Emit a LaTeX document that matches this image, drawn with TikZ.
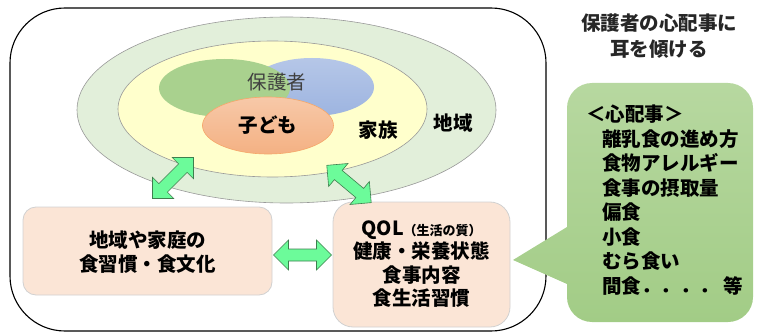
\documentclass[tikz,border=0pt]{standalone}
\usepackage{fontspec}
\setmainfont{Noto Sans CJK JP}
\usetikzlibrary{shapes.geometric,calc}
\definecolor{chiikiC}{HTML}{E2EFDA}
\definecolor{kazokuC}{HTML}{FFFFCC}
\definecolor{hogoG}{HTML}{A9D18E}
\definecolor{hogoB}{HTML}{9DB4E0}
\definecolor{kodomoC}{HTML}{F4B183}
\definecolor{boxC}{HTML}{FBE5D6}
\definecolor{arrC}{HTML}{6CFB9A}
\definecolor{arrD}{HTML}{3E7F4E}
\definecolor{callTop}{HTML}{B7D8A0}
\definecolor{callBot}{HTML}{A2CC86}
\begin{document}
\begin{tikzpicture}[x=1pt,y=-1pt,
  txt/.style={font=\fontsize{19.5}{24}\selectfont\bfseries, text=black},
  ring/.style={ellipse, draw=gray!80, line width=0.6pt, inner sep=0pt},
  bubble/.style={ellipse, inner sep=0pt},
  infobox/.style={draw=black!18, line width=0.8pt, fill=boxC},
  arrowstyle/.style={fill=arrC, draw=arrD, line width=0.6pt, line join=miter},
  dblarr/.pic={\path[arrowstyle] (-29,0) -- (-14,15) -- (-14,6) -- (14,6) -- (14,15) -- (29,0) -- (14,-15) -- (14,-6) -- (-14,-6) -- (-14,-15) -- cycle;}
]
\useasboundingbox (0,0) rectangle (760,334);
% outer frame
\draw[line width=1.1pt, rounded corners=55pt] (10,8) rectangle (546,331);
% ellipses
\node[ring, fill=chiikiC, minimum width=419, minimum height=186] (chiiki) at (286.5,110) {};
\node[ring, fill=kazokuC, minimum width=309, minimum height=136] (kazoku) at (272.5,109) {};
\node[bubble, top color=hogoB!75, bottom color=hogoB, minimum width=124, minimum height=58] (hogoB) at (312,87) {};
\node[bubble, fill=hogoG, minimum width=131, minimum height=58] (hogoG) at (224.5,88) {};
\node[bubble, draw=kodomoC!80!orange, line width=0.6pt, top color=kodomoC!70, bottom color=kodomoC, minimum width=131, minimum height=57] (kodomo) at (268,125.5) {};
\node[font=\fontsize{19.5}{24}\selectfont, text=black!75] (hogoT) at (277,82) {保護者};
\node[txt] (kodomoT) at (kodomo) {子ども};
\node[txt] (kazokuT) at (378,130) {家族};
\node[txt] (chiikiT) at (453,123) {地域};
% boxes
\path[infobox, rounded corners=13pt] (23,207) rectangle (272,295);
\node[txt, align=center] (left) at (147.5,252) {地域や家庭の\\食習慣・食文化};
\coordinate (leftE) at (272,251);
\path[infobox, rounded corners=20pt] (333,202) rectangle (510,327);
\node[txt, align=center, font=\fontsize{19.5}{23.5}\selectfont\bfseries] (qol) at (421.5,264) {QOL{\fontsize{13}{15}\selectfont（生活の質）}\\健康・栄養状態\\食事内容\\食生活習慣};
\coordinate (qolW) at (333,251);
% arrows
\pic at ($(leftE)!0.5!(qolW)+(0,4)$) {dblarr};
\pic[rotate=45] at (173,178) {dblarr};
\pic[rotate=-40] at (349,184) {dblarr};
% title
\node[txt, align=center, text=black!85, font=\fontsize{19.5}{26}\selectfont\bfseries] (title) at (659,36) {保護者の心配事に\\耳を傾ける};
% callout
\path[top color=callTop, bottom color=callBot] (513,260) -- (567,227) [rounded corners=25pt] -- (567,83) -- (753,83) -- (753,322) -- (567,322) [sharp corners] -- (567,284) -- cycle;
\node[txt, align=left, anchor=north west, font=\fontsize{19.5}{24.5}\selectfont\bfseries, inner sep=0pt] (worry) at (586,105) {＜心配事＞\\
\hspace{16pt}離乳食の進め方\\
\hspace{16pt}食物アレルギー\\
\hspace{16pt}食事の摂取量\\
\hspace{16pt}偏食\\
\hspace{16pt}小食\\
\hspace{16pt}むら食い\\
\hspace{16pt}間食．．．． 等};
\end{tikzpicture}
\end{document}
